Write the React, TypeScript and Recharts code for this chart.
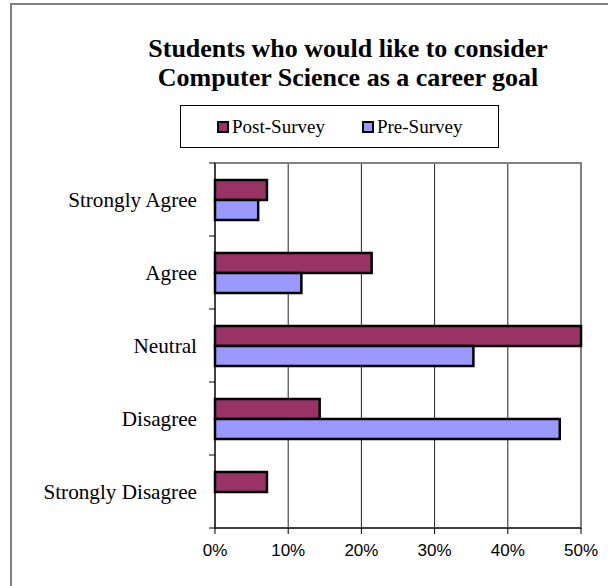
import { BarChart, Bar, XAxis, YAxis, CartesianGrid, ReferenceArea } from 'recharts';

const categories = ['Strongly Agree', 'Agree', 'Neutral', 'Disagree', 'Strongly Disagree'];
const postSurvey = [0.071, 0.214, 0.5, 0.143, 0.071];
const preSurvey = [0.059, 0.118, 0.353, 0.471, 0];
const xTicks = [0, 0.1, 0.2, 0.3, 0.4, 0.5];

const seriesNames = ['Post-Survey', 'Pre-Survey'];
const colors = ['#993366', '#9999FF'];

const data = categories.map((name, i) => ({ name, post: postSurvey[i], pre: preSurvey[i] }));

const serif = '"Liberation Serif", "Times New Roman", serif';
const sans = '"Liberation Sans", Arial, sans-serif';

function CategoryTick(props: any) {
  const { x, y, payload, index, height } = props;
  const band = (height || 365) / categories.length;
  const isLast = index === categories.length - 1;
  return (
    <g>
      <text x={x} y={y} dy="0.35em" textAnchor="end" fontFamily={serif} fontSize={21.2} fill="#000">
        {payload.value}
      </text>
      <line x1={x + 12} x2={x + 18} y1={y - band / 2} y2={y - band / 2} stroke="#000" />
      {isLast && <line x1={x + 12} x2={x + 18} y1={y + band / 2} y2={y + band / 2} stroke="#000" />}
    </g>
  );
}

export default function App() {
  return (
    <div style={{ position: 'absolute', top: 0, left: 0, width: 608, height: 586, overflow: 'hidden', background: '#fff' }}>
      {/* chart frame, only left and top edges fall inside the picture */}
      <div style={{ position: 'absolute', left: 10, top: 3, width: 700, height: 700, borderLeft: '2px solid #808080', borderTop: '2px solid #808080' }} />

      <div style={{ position: 'absolute', left: 48, top: 34, width: 600, textAlign: 'center', fontFamily: serif, fontWeight: 'bold', fontSize: 26, lineHeight: '29px', whiteSpace: 'nowrap' }}>
        Students who would like to consider<br />Computer Science as a career goal
      </div>

      <div style={{ position: 'absolute', left: 180, top: 105, width: 319, height: 43, boxSizing: 'border-box', border: '1px solid #000', display: 'flex', alignItems: 'center', paddingLeft: 36, fontFamily: serif, fontSize: 19 }}>
        {seriesNames.map((n, i) => (
          <div key={n} style={{ display: 'flex', alignItems: 'center', marginRight: i === 0 ? 37 : 0 }}>
            <span style={{ display: 'inline-block', width: 8, height: 8, background: colors[i], border: '2px solid #000', marginRight: 3 }} />
            <span>{n}</span>
          </div>
        ))}
      </div>

      <div style={{ position: 'absolute', left: 0, top: 0 }}>
        <BarChart
          width={608}
          height={586}
          data={data}
          layout="vertical"
          margin={{ top: 163, right: 27, bottom: 18, left: 0 }}
          barSize={20}
          barGap={0}
        >
          <CartesianGrid horizontal={false} stroke="#222" />
          <ReferenceArea x1={0} x2={0.5} fill="none" stroke="#808080" strokeWidth={2} />
          <XAxis
            type="number"
            domain={[0, 0.5]}
            ticks={xTicks}
            tickFormatter={(v: number) => `${Math.round(v * 100)}%`}
            height={40}
            tickSize={6}
            tickMargin={10}
            stroke="#000"
            tick={{ fontFamily: sans, fontSize: 17, fill: '#000' }}
          />
          <YAxis
            type="category"
            dataKey="name"
            width={215}
            tickLine={false}
            tickSize={0}
            tickMargin={18}
            stroke="#000"
            interval={0}
            tick={<CategoryTick />}
          />
          <Bar dataKey="post" name={seriesNames[0]} fill={colors[0]} stroke="#000" strokeWidth={2.5} isAnimationActive={false} />
          <Bar dataKey="pre" name={seriesNames[1]} fill={colors[1]} stroke="#000" strokeWidth={2.5} isAnimationActive={false} />
        </BarChart>
      </div>
    </div>
  );
}
